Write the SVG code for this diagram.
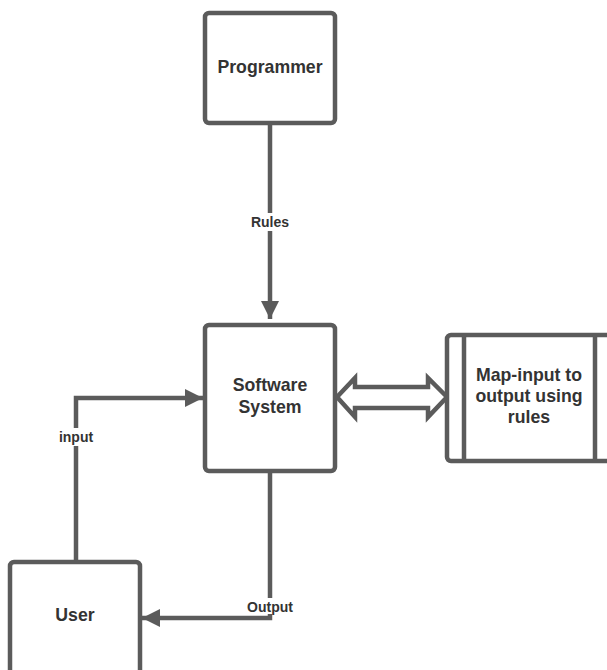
<svg xmlns="http://www.w3.org/2000/svg" width="607" height="670" viewBox="0 0 607 670">
<defs>
<style>
.box{fill:#fff;stroke:#5b5b5b;stroke-width:4.5}
.ln{fill:none;stroke:#5b5b5b;stroke-width:4.5}
.t{font-family:"Liberation Sans",Arial,sans-serif;font-weight:bold;font-size:17.7px;fill:#333;text-anchor:middle}
.lb{font-family:"Liberation Sans",Arial,sans-serif;font-weight:bold;font-size:14px;fill:#333;text-anchor:middle}
</style>
<marker id="ah" viewBox="0 0 10 10" refX="10" refY="5" markerWidth="4" markerHeight="4" orient="auto" markerUnits="strokeWidth">
<path d="M0,0 L10,5 L0,10 z" fill="#5b5b5b"/>
</marker>
</defs>
<rect width="607" height="670" fill="#fff"/>
<g id="connectors">
<path class="ln" d="M270,124 V319" marker-end="url(#ah)"/>
<rect x="246" y="213" width="48" height="18" fill="#fff"/>
<text class="lb" x="270" y="227">Rules</text>
<path class="ln" d="M76,562 V398 H203" marker-end="url(#ah)"/>
<rect x="54" y="428" width="46" height="18" fill="#fff"/>
<text class="lb" x="76" y="442">input</text>
<path class="ln" d="M270,472 V618 H142" marker-end="url(#ah)"/>
<rect x="243" y="598" width="54" height="16" fill="#fff"/>
<text class="lb" x="270" y="612">Output</text>
<path class="ln" d="M337,397 L355,378 L355,387 L428,387 L428,378 L447,397 L428,417 L428,408 L355,408 L355,417 Z" fill="#fff"/>
</g>
<g id="programmer">
<rect class="box" x="205" y="13" width="130" height="110" rx="4"/>
<text class="t" x="270" y="73">Programmer</text>
</g>
<g id="software">
<rect class="box" x="205" y="325" width="130" height="146" rx="4"/>
<text class="t" x="270" y="391">Software</text>
<text class="t" x="270" y="413">System</text>
</g>
<g id="map">
<rect class="box" x="447" y="335" width="170" height="126" rx="4"/>
<line class="ln" x1="464" y1="335" x2="464" y2="461"/>
<line class="ln" x1="595" y1="335" x2="595" y2="461"/>
<text class="t" x="529" y="381">Map-input to</text>
<text class="t" x="529" y="402">output using</text>
<text class="t" x="529" y="423">rules</text>
</g>
<g id="user">
<rect class="box" x="10" y="562" width="130" height="130" rx="4"/>
<text class="t" x="75" y="621">User</text>
</g>
</svg>
